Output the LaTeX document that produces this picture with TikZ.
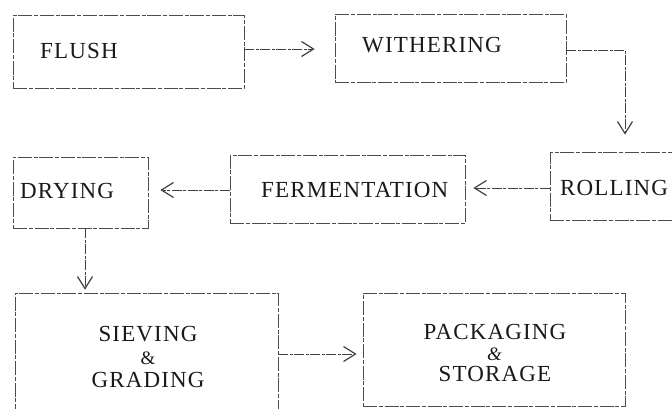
\documentclass[tikz,border=0pt]{standalone}
\usepackage{fontspec}
\setmainfont{Liberation Serif}
\usetikzlibrary{arrows.meta}
\begin{document}
\begin{tikzpicture}[x=1pt,y=-1pt,
  box/.style={draw=black!70, line width=0.7pt, dash pattern=on 14pt off 1.5pt on 4pt off 2pt, inner sep=0pt},
  lbl/.style={font=\fontsize{23}{25}\selectfont\addfontfeature{LetterSpace=5}, inner sep=0pt, text=black!90, align=center},
  conn/.style={draw=black!75, line width=0.8pt, dash pattern=on 10pt off 1.5pt on 3pt off 1.5pt,
    -{Straight Barb[length=12pt,width=15pt,line width=1.2pt]}},
]
\useasboundingbox (0,0) rectangle (672,408);
\clip (0,0) rectangle (672,408);

% boxes
\node[box, minimum width=231pt, minimum height=73pt] (flush) at (128.5,51.5) {};
\node[box, minimum width=231pt, minimum height=68pt] (withering) at (450.5,48) {};
\node[box, minimum width=150pt, minimum height=68pt] (rolling) at (625,186) {};
\node[box, minimum width=235pt, minimum height=68pt] (fermentation) at (347.5,189) {};
\node[box, minimum width=135pt, minimum height=71pt] (drying) at (80.5,192.5) {};
\node[box, minimum width=263pt, minimum height=137pt] (sieving) at (146.5,361.5) {};
\node[box, minimum width=262pt, minimum height=113pt] (packaging) at (494,349.5) {};

% labels
\node[lbl, anchor=west] (flushT) at (40,51) {FLUSH};
\node[lbl, anchor=west] (witheringT) at (362,45) {WITHERING};
\node[lbl, anchor=west] (rollingT) at (560,188) {ROLLING};
\node[lbl, anchor=west] (fermentationT) at (261,190) {FERMENTATION};
\node[lbl, anchor=west] (dryingT) at (20,191) {DRYING};
\node[lbl] (sievingT) at (148,357) {SIEVING\\[-2pt]{\fontsize{19}{20}\selectfont\&}\\[-2pt]GRADING};
\node[lbl] (packagingT) at (495,353) {PACKAGING\\[-4pt]{\fontsize{19}{20}\selectfont\textit{\&}}\\[-4pt]STORAGE};

% connectors
\draw[conn, shorten >=20pt] (flush.east |- 0,49) -- (withering.west |- 0,49);
\draw[conn, shorten >=17pt] (withering.east |- 0,50) -| (rolling.north);
\draw[conn, shorten >=8pt] (rolling.west |- 0,188) -- (fermentation.east |- 0,188);
\draw[conn, shorten >=12pt] (fermentation.west |- 0,190) -- (drying.east |- 0,190);
\draw[conn, shorten >=3pt] (drying.south -| 85,0) -- (sieving.north -| 85,0);
\draw[conn, shorten >=6pt] (sieving.east |- 0,354) -- (packaging.west |- 0,354);
\end{tikzpicture}
\end{document}
